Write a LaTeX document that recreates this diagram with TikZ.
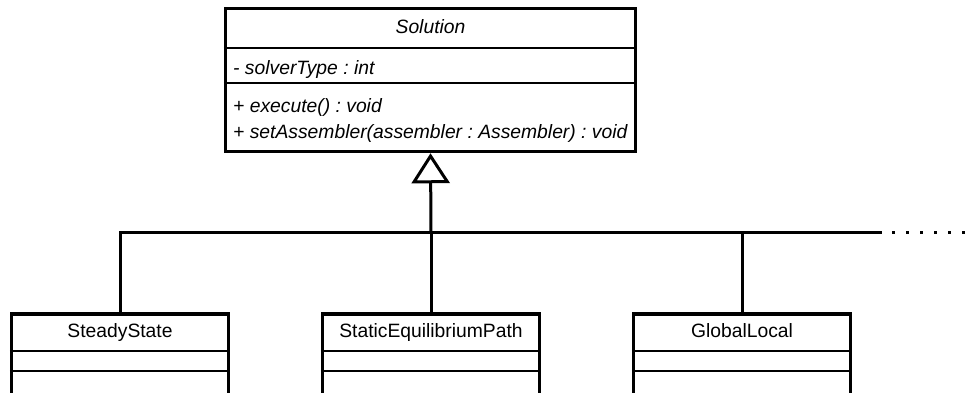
\documentclass[tikz,border=0pt]{standalone}
\usepackage{fontspec}
\setmainfont{Liberation Sans}
\usetikzlibrary{arrows.meta}
\frenchspacing
\begin{document}
\begin{tikzpicture}[x=1pt,y=-1pt,
  classbox/.style={draw, line width=3.5pt, fill=white, inner sep=0pt},
  divider/.style={line width=1.5pt},
  link/.style={line width=3pt},
  txt/.style={inner sep=0pt, font=\fontsize{19.3}{22}\selectfont},
  member/.style={txt, anchor=base west, font=\fontsize{19.3}{22}\selectfont\itshape},
]
\useasboundingbox (0,0) rectangle (975,392);
\clip (0,0) rectangle (975,392);

% abstract base class
\node[classbox, minimum width=410pt, minimum height=143pt] (sol) at (430.5,80) {};
\draw[divider] ([yshift=-41.25pt]sol.north west) -- ([yshift=-41.25pt]sol.north east);
\draw[divider] ([yshift=-76.25pt]sol.north west) -- ([yshift=-76.25pt]sol.north east);
\node[txt, anchor=base, font=\fontsize{19.3}{22}\selectfont\itshape] (solname) at (430.5,33) {Solution};
\node[member] (attr) at (233,74) {- solverType : int};
\node[member] (op1) at (233,112) {+ execute() : void};
\node[member] (op2) at (233,138) {+ setAssembler(assembler : Assembler) : void};

% concrete subclasses
\foreach \nm/\cx/\lbl in {ss/120/SteadyState, sep/431/StaticEquilibriumPath, gl/742/GlobalLocal}{
  \node[classbox, minimum width=217pt, minimum height=110pt, anchor=north] (\nm) at (\cx,312) {};
  \draw[divider] ([yshift=-39pt]\nm.north west) -- ([yshift=-39pt]\nm.north east);
  \draw[divider] ([yshift=-59pt]\nm.north west) -- ([yshift=-59pt]\nm.north east);
  \node[txt, anchor=base] (\nm-name) at (\cx,337) {\lbl};
}

% generalisation tree
\coordinate (hub) at (431,232);
\coordinate (busR) at (882,232);
\coordinate (dotA) at (892,232);
\coordinate (more) at (966,232);
\draw[link, -{Triangle[open, length=30pt, width=38pt]}] (hub) -- (sol.south);
\draw[link] (ss.north) |- (busR);
\draw[link] (sep.north) -- (hub);
\draw[link] (gl.north) -- (gl.north |- busR);
\draw[link, dash pattern=on 3pt off 11pt] (dotA) -- (more);
\end{tikzpicture}
\end{document}
